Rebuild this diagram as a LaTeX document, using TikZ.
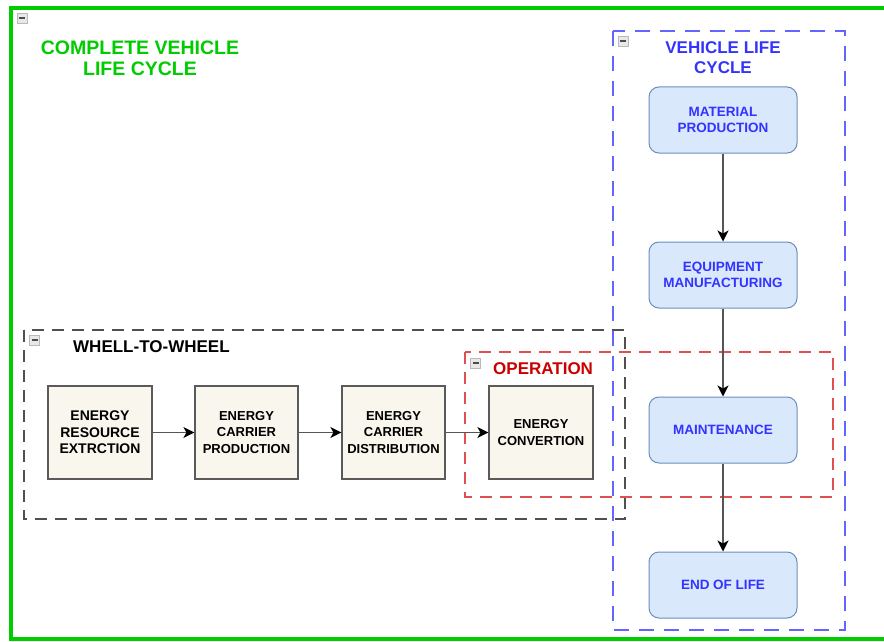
\documentclass[tikz,border=0pt]{standalone}
\usepackage{fontspec}
\setmainfont{Liberation Sans}
\usetikzlibrary{arrows.meta}
\definecolor{grn}{RGB}{0,204,0}
\definecolor{bluetxt}{RGB}{51,51,255}
\definecolor{bluedash}{RGB}{100,100,255}
\definecolor{blfill}{HTML}{DAE8FC}
\definecolor{blstroke}{HTML}{6C8EBF}
\definecolor{bgfill}{HTML}{F9F7ED}
\definecolor{bgstroke}{HTML}{5A5A5A}
\definecolor{redtxt}{RGB}{204,0,0}
\definecolor{reddash}{RGB}{224,80,80}
\definecolor{graydash}{RGB}{80,80,80}
\definecolor{arrgray}{RGB}{85,85,85}
\tikzset{
  lcbox/.style={draw=blstroke, fill=blfill, line width=1pt, rounded corners=10pt,
    minimum width=148pt, minimum height=66pt, inner sep=0pt, align=center,
    text=bluetxt, font=\bfseries\fontsize{13.5}{16}\selectfont},
  ebox/.style={draw=bgstroke, fill=bgfill, line width=1.2pt,
    minimum width=103pt, minimum height=93pt, inner sep=0pt, align=center,
    text=black, font=\bfseries\fontsize{13}{16.5}\selectfont},
  arr/.style={draw=arrgray, line width=1.5pt, -{Stealth[length=11pt,width=11pt,inset=3pt,color=black]}},
  title/.style={font=\bfseries\fontsize{17}{19.5}\selectfont, align=center, inner sep=0pt},
  minusbox/.pic={
    \draw[gray!55, fill=gray!18, line width=0.8pt] (-5,-5) rectangle (5,5);
    \draw[black!70, line width=1.6pt] (-3,0) -- (3,0);
  }
}
\begin{document}
\begin{tikzpicture}[x=1pt,y=-1pt]
\useasboundingbox (0,0) rectangle (884,642);
\clip (0,0) rectangle (884,642);
\fill[white] (0,0) rectangle (884,642);
% outer green frame
\draw[grn, line width=4pt] (11,8) rectangle (900,639);
\pic at (22,18) {minusbox};
\node[title, text=grn, font=\bfseries\fontsize{19.5}{21}\selectfont] (gtitle) at (140,58.5) {COMPLETE VEHICLE\\LIFE CYCLE};
% containers
\draw[bluedash, line width=1.3pt, dash pattern=on 15pt off 10pt] (613,31) rectangle (845,630);
\pic at (623,41) {minusbox};
\node[title, text=bluetxt] (btitle) at (723,57.5) {VEHICLE LIFE\\CYCLE};
\draw[graydash, line width=1.3pt, dash pattern=on 12pt off 8pt] (24,330) rectangle (625,519);
\pic at (34.5,340) {minusbox};
\node[title, text=black, anchor=west] (wtitle) at (73,347) {WHELL-TO-WHEEL};
\draw[reddash, line width=1.3pt, dash pattern=on 12pt off 8pt] (465,352) rectangle (833,497);
\pic at (475.5,363) {minusbox};
\node[title, text=redtxt, anchor=west] (otitle) at (493,369) {OPERATION};
% vehicle life cycle
\node[lcbox] (mp) at (723,120) {MATERIAL\\PRODUCTION};
\node[lcbox] (em) at (723,275) {EQUIPMENT\\MANUFACTURING};
\node[lcbox] (mt) at (723,430) {MAINTENANCE};
\node[lcbox] (eol) at (723,585) {END OF LIFE};
% well to wheel
\node[ebox, minimum width=104pt, font=\bfseries\fontsize{14}{16.5}\selectfont] (e1) at (100,432.5) {ENERGY\\RESOURCE\\EXTRCTION};
\node[ebox] (e2) at (246.5,432.5) {ENERGY\\CARRIER\\PRODUCTION};
\node[ebox] (e3) at (393.5,432.5) {ENERGY\\CARRIER\\DISTRIBUTION};
\node[ebox, minimum width=104pt] (e4) at (541,432.5) {ENERGY\\CONVERTION};
% connectors
\draw[arr] (e1) -- (e2);
\draw[arr] (e2) -- (e3);
\draw[arr] (e3) -- (e4);
\draw[arr] (mp) -- (em);
\draw[arr] (em) -- (mt);
\draw[arr] (mt) -- (eol);
\end{tikzpicture}
\end{document}
